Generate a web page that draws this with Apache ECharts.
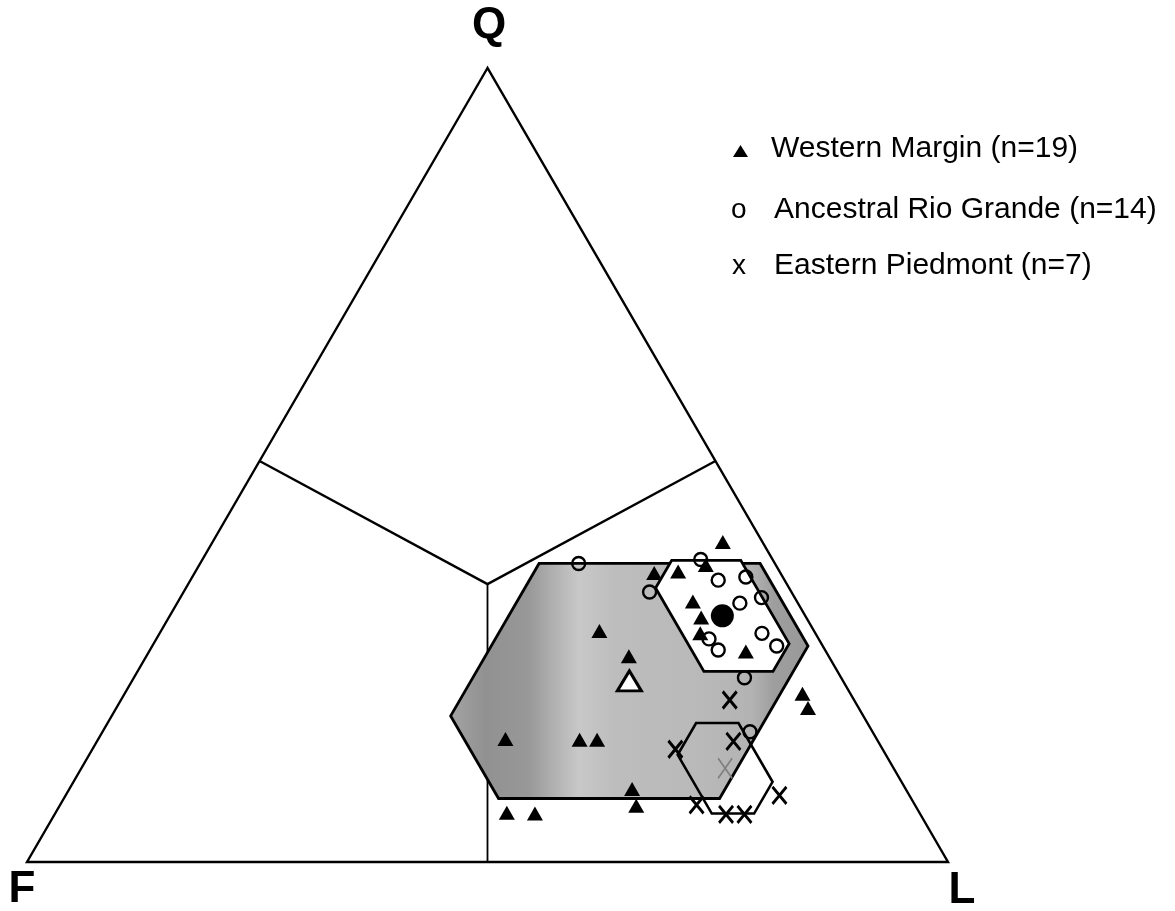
<!DOCTYPE html>
<html>
<head>
<meta charset="utf-8">
<title>QFL ternary diagram</title>
<script src="https://cdn.jsdelivr.net/npm/echarts@6/dist/echarts.min.js"></script>
<style>
  html, body { margin: 0; padding: 0; background: #fff; }
  #chart { width: 1175px; height: 911px; }
</style>
</head>
<body>
<div id="chart"></div>
<script>
// Apex labels of the ternary plot
const apexLabels = ['Q', 'F', 'L'];

// Provenance field boundaries, compositions as [Q, F, L] percent
const boundaryFrom = [[50.5, 49.5, 0], [50.5, 0, 49.5], [35, 32.5, 32.5]];
const boundaryTo   = [[35, 32.5, 32.5], [35, 32.5, 32.5], [0, 50, 50]];

// Sample compositions [Q, F, L] percent
const westernMargin = [
  [40.3, 4.3, 55.4], [36.4, 13.7, 49.9], [36.6, 11.0, 52.4], [37.4, 7.6, 55.0],
  [32.8, 11.3, 55.9], [30.8, 11.4, 57.8], [28.8, 12.5, 58.7], [26.5, 8.7, 64.8],
  [29.1, 23.3, 47.6], [25.9, 21.7, 52.4], [21.2, 5.2, 73.6], [19.4, 5.5, 75.1],
  [15.5, 40.3, 44.2], [15.4, 32.3, 52.3], [15.4, 30.4, 54.2], [9.2, 29.7, 61.1],
  [7.1, 30.3, 62.6], [6.2, 44.8, 49.0], [6.1, 41.8, 52.1]
];
const ancestralRioGrande = [
  [37.6, 21.3, 41.1], [34.0, 15.4, 50.6], [38.1, 7.8, 54.1], [35.5, 7.2, 57.3],
  [35.9, 4.0, 60.1], [33.3, 3.6, 63.1], [32.6, 6.3, 61.1], [28.1, 11.9, 60.0],
  [26.7, 11.6, 61.7], [28.8, 5.8, 65.4], [27.2, 5.0, 67.8], [23.2, 10.5, 66.3],
  [16.4, 13.3, 70.3]
];
const easternPiedmont = [
  [20.4, 13.5, 66.1], [15.2, 15.7, 69.1], [14.2, 22.5, 63.3], [8.4, 14.1, 77.5],
  [7.2, 23.7, 69.1], [6.0, 21.1, 72.9], [6.0, 19.1, 74.9]
];

// Group summary: mean and one standard deviation [Q, F, L]
const groupNames = ['Western Margin', 'Ancestral Rio Grande', 'Eastern Piedmont'];
const groupCounts = [19, 14, 7];
const groupMeans = [[22.8, 23.2, 54.0], [31.0, 9.0, 60.0], [11.8, 18.3, 69.9]];
const groupSD = [[14.8, 21.6, 17.2], [7.0, 5.5, 9.0], [5.7, 4.3, 6.0]];

// Ternary composition -> cartesian (x along F-L base, y towards Q apex)
function toXY(c) {
  const s = c[0] + c[1] + c[2];
  const q = c[0] / s, l = c[2] / s;
  return [100 * (l + q / 2), 100 * q];
}

// Hexagon bounded by mean +/- 1 SD in each component
function sdHexagon(mean, sd) {
  const q0 = mean[0] - sd[0], q1 = mean[0] + sd[0];
  const f0 = mean[1] - sd[1], f1 = mean[1] + sd[1];
  const l0 = mean[2] - sd[2], l1 = mean[2] + sd[2];
  return [
    [q1, 100 - q1 - l0, l0],
    [q1, f0, 100 - q1 - f0],
    [100 - f0 - l1, f0, l1],
    [q0, 100 - q0 - l1, l1],
    [q0, f1, 100 - q0 - f1],
    [100 - f1 - l0, f1, l0]
  ];
}

const fieldFill = new echarts.graphic.LinearGradient(0, 0, 1, 0, [
  { offset: 0.00, color: '#a4a4a4' },
  { offset: 0.10, color: '#919191' },
  { offset: 0.22, color: '#989898' },
  { offset: 0.30, color: '#b4b4b4' },
  { offset: 0.36, color: '#c8c8c8' },
  { offset: 0.46, color: '#bdbdbd' },
  { offset: 0.70, color: '#b9b9b9' },
  { offset: 0.84, color: '#b3b3b3' },
  { offset: 0.90, color: '#9e9e9e' },
  { offset: 1.00, color: '#999999' }
]);
const hexStyles = [
  { fill: fieldFill, stroke: '#000', lineWidth: 2.8 },
  { fill: '#fff', stroke: '#000', lineWidth: 2.8 },
  { fill: 'none', stroke: '#000', lineWidth: 2.6 }
];

const crossPath = 'path://M0,0L12,14M12,0L0,14';
const font = '"Liberation Sans", Arial, sans-serif';

const chart = echarts.init(document.getElementById('chart'), null, { renderer: 'canvas' });

chart.setOption({
  animation: false,
  backgroundColor: '#fff',
  grid: { left: 27, right: 227, top: 68, bottom: 49 },
  xAxis: { type: 'value', min: 0, max: 100, show: false },
  yAxis: { type: 'value', min: 0, max: 100, show: false },
  series: [
    {
      // triangle frame and field boundaries
      type: 'custom',
      silent: true,
      z: 1,
      data: [[0, 0]],
      renderItem: function (params, api) {
        const corners = [[100, 0, 0], [0, 100, 0], [0, 0, 100]].map(c => api.coord(toXY(c)));
        const children = [{
          type: 'polygon',
          shape: { points: corners },
          style: { fill: 'none', stroke: '#000', lineWidth: 2.4 }
        }];
        boundaryFrom.forEach((from, i) => {
          const a = api.coord(toXY(from)), b = api.coord(toXY(boundaryTo[i]));
          children.push({
            type: 'line',
            shape: { x1: a[0], y1: a[1], x2: b[0], y2: b[1] },
            style: { stroke: '#000', lineWidth: i === 2 ? 1.8 : 2.4 }
          });
        });
        return { type: 'group', children: children };
      }
    },
    {
      // one-SD fields of each group
      type: 'custom',
      silent: true,
      z: 2,
      data: [[0, 0], [1, 0], [2, 0]],
      renderItem: function (params, api) {
        const i = params.dataIndex;
        const pts = sdHexagon(groupMeans[i], groupSD[i]).map(c => api.coord(toXY(c)));
        return { type: 'polygon', shape: { points: pts }, style: hexStyles[i] };
      }
    },
    {
      name: groupNames[0],
      type: 'scatter',
      z: 4,
      symbol: 'triangle',
      symbolSize: [16, 14],
      itemStyle: { color: '#000', opacity: 1 },
      data: westernMargin.map(toXY)
    },
    {
      name: groupNames[1],
      type: 'scatter',
      z: 4,
      symbol: 'circle',
      symbolSize: 13,
      itemStyle: { color: 'rgba(0,0,0,0)', borderColor: '#000', borderWidth: 2.4, opacity: 1 },
      data: ancestralRioGrande.map(toXY)
    },
    {
      name: groupNames[2],
      type: 'scatter',
      z: 4,
      symbol: crossPath,
      symbolSize: [14, 17],
      itemStyle: { color: 'rgba(0,0,0,0)', borderColor: '#000', borderWidth: 3, opacity: 1 },
      data: easternPiedmont.map(toXY)
    },
    {
      name: groupNames[0] + ' mean',
      type: 'scatter',
      z: 5,
      symbol: 'triangle',
      symbolSize: [24, 20],
      itemStyle: { color: '#fff', borderColor: '#000', borderWidth: 3, opacity: 1 },
      data: [toXY(groupMeans[0])]
    },
    {
      name: groupNames[1] + ' mean',
      type: 'scatter',
      z: 5,
      symbol: 'circle',
      symbolSize: 23,
      itemStyle: { color: '#000', opacity: 1 },
      data: [toXY(groupMeans[1])]
    },
    {
      name: groupNames[2] + ' mean',
      type: 'scatter',
      z: 5,
      symbol: crossPath,
      symbolSize: [14, 20],
      itemStyle: { color: 'rgba(0,0,0,0)', borderColor: '#808080', borderWidth: 1.8, opacity: 1 },
      data: [toXY(groupMeans[2])]
    }
  ],
  graphic: [
    // apex labels
    { type: 'text', x: 489, y: 26, style: { text: apexLabels[0], font: 'bold 44px ' + font, fill: '#000', align: 'center', verticalAlign: 'middle' } },
    { type: 'text', x: 22, y: 890, style: { text: apexLabels[1], font: 'bold 44px ' + font, fill: '#000', align: 'center', verticalAlign: 'middle' } },
    { type: 'text', x: 962, y: 891, style: { text: apexLabels[2], font: 'bold 44px ' + font, fill: '#000', align: 'center', verticalAlign: 'middle' } },
    // legend
    { type: 'polygon', shape: { points: [[733, 157], [748, 157], [740.5, 145]] }, style: { fill: '#000' } },
    { type: 'text', x: 771, y: 149, style: { text: groupNames[0] + ' (n=' + groupCounts[0] + ')', font: '30px ' + font, fill: '#000', verticalAlign: 'middle' } },
    { type: 'text', x: 731, y: 210, style: { text: 'o', font: '28px ' + font, fill: '#000', verticalAlign: 'middle' } },
    { type: 'text', x: 774, y: 210, style: { text: groupNames[1] + ' (n=' + groupCounts[1] + ')', font: '30px ' + font, fill: '#000', verticalAlign: 'middle' } },
    { type: 'text', x: 732, y: 266, style: { text: 'x', font: '28px ' + font, fill: '#000', verticalAlign: 'middle' } },
    { type: 'text', x: 774, y: 266, style: { text: groupNames[2] + ' (n=' + groupCounts[2] + ')', font: '30px ' + font, fill: '#000', verticalAlign: 'middle' } }
  ]
});
</script>
</body>
</html>
